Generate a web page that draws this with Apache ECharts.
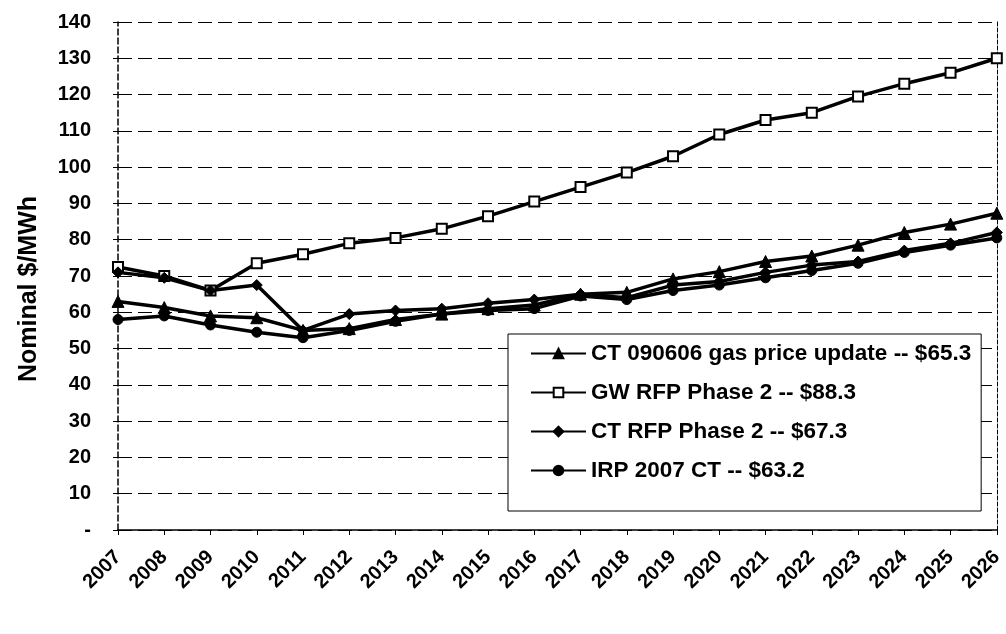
<!DOCTYPE html>
<html><head><meta charset="utf-8">
<script src="https://cdn.jsdelivr.net/npm/echarts@6/dist/echarts.min.js"></script>
<style>html,body{margin:0;padding:0;background:#fff}#c{width:1006px;height:634px}</style>
</head><body><div id="c"></div>
<script>
const years = ['2007','2008','2009','2010','2011','2012','2013','2014','2015','2016','2017','2018','2019','2020','2021','2022','2023','2024','2025','2026'];
const ctGasUpdate = [63,61.3,59,58.5,55,55.5,58,59.5,61,62,65,65.5,69.2,71.2,74,75.5,78.5,82,84.3,87.3];
const gwRfp = [72.5,70,66,73.5,76,79,80.5,83,86.5,90.5,94.5,98.5,103,109,113,115,119.5,123,126,130];
const ctRfp = [71,69.5,66,67.5,55,59.5,60.5,61,62.5,63.5,65,64,67.5,68.5,71,73,74,77,79,82];
const irp2007 = [58,59,56.5,54.5,53,55,57.5,59.5,60.5,61,64.5,63.5,66,67.5,69.5,71.5,73.5,76.5,78.5,80.5];
const names = ['CT 090606 gas price update -- $65.3','GW RFP Phase 2 -- $88.3','CT RFP Phase 2 -- $67.3','IRP 2007 CT -- $63.2'];

const font = 'Liberation Sans, Arial, sans-serif';
const chart = echarts.init(document.getElementById('c'));
function line(name, data, symbol, size, fill) {
  return {name, type:'line', data, symbol, symbolSize:size, showSymbol:true,
    lineStyle:{color:'#000', width:3.5},
    itemStyle:{color: fill, borderColor:'#000', borderWidth: fill==='#fff'?2:1},
    emphasis:{disabled:true}, animation:false, z: 3};
}
chart.setOption({
  animation:false,
  backgroundColor:'#fff',
  grid:{left:118, right:9, top:22, bottom:104},
  legend:{
    orient:'vertical', left:508, top:334,
    borderColor:'#000', borderWidth:1, padding:[8,10,29,22], itemGap:16,
    itemWidth:55, itemHeight:12,
    textStyle:{fontFamily:font, fontSize:22.5, fontWeight:'bold', color:'#000', lineHeight:23},
    data:names, backgroundColor:'#fff'
  },
  xAxis:{type:'category', data:years, boundaryGap:false,
    axisLine:{lineStyle:{color:'#000', width:1.5}},
    axisTick:{show:true, lineStyle:{color:'#000'}},
    axisLabel:{rotate:45, color:'#000', fontFamily:font, fontSize:20, fontWeight:'bold', margin:24}
  },
  yAxis:[{type:'value', min:0, max:140, interval:10,
    name:'Nominal $/MWh', nameLocation:'middle', nameGap:76,
    nameTextStyle:{fontFamily:font, fontSize:25, fontWeight:'bold', color:'#000', padding:[0,0,0,-26]},
    axisLine:{show:true, lineStyle:{color:'#000', width:1.5, type:'dashed'}},
    axisTick:{show:true, lineStyle:{color:'#000'}},
    axisLabel:{color:'#000', fontFamily:font, fontSize:20, fontWeight:'bold', margin:27,
      formatter: v => v===0 ? '-' : String(v)},
    splitLine:{show:true, lineStyle:{color:'#000', width:1, type:[14,6]}}
  },{type:'value', min:0, max:140, interval:10, position:'right',
    axisLine:{show:true, lineStyle:{color:'#000', width:1, type:'dashed'}},
    axisTick:{show:false}, axisLabel:{show:false}, splitLine:{show:false}}],
  series:[
    line(names[0], ctGasUpdate, 'triangle', 12, '#000'),
    line(names[1], gwRfp, 'rect', 10, '#fff'),
    line(names[2], ctRfp, 'diamond', 11, '#000'),
    line(names[3], irp2007, 'circle', 10, '#000')
  ]
});
</script></body></html>
